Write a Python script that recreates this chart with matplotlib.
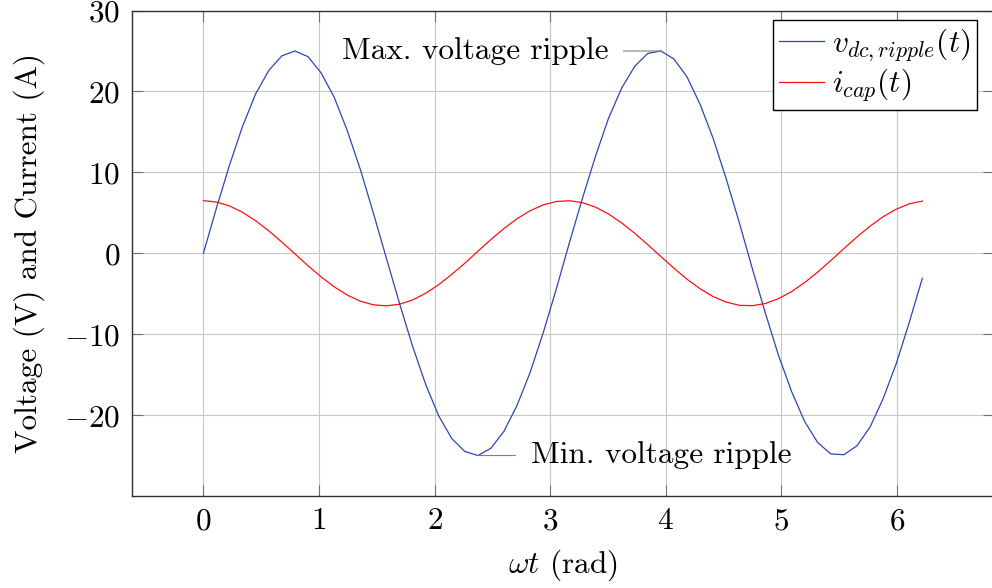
import matplotlib
matplotlib.use("Agg")
import matplotlib.pyplot as plt
import numpy as np

plt.rcParams['font.family'] = 'serif'
plt.rcParams['font.serif'] = ['cmr10', 'DejaVu Serif']
plt.rcParams['mathtext.fontset'] = 'cm'
plt.rcParams['axes.formatter.use_mathtext'] = True
plt.rcParams['axes.unicode_minus'] = True

FS = 22.5

# sampled angle (rad)
wt = [0.000, 0.113, 0.226, 0.339, 0.452, 0.566, 0.679, 0.792, 0.905, 1.018,
      1.131, 1.244, 1.357, 1.470, 1.583, 1.697, 1.810, 1.923, 2.036, 2.149,
      2.262, 2.375, 2.488, 2.601, 2.714, 2.828, 2.941, 3.054, 3.167, 3.280,
      3.393, 3.506, 3.619, 3.732, 3.845, 3.959, 4.072, 4.185, 4.298, 4.411,
      4.524, 4.637, 4.750, 4.863, 4.976, 5.090, 5.203, 5.316, 5.429, 5.542,
      5.655, 5.768, 5.881, 5.994, 6.107, 6.221]

# dc link voltage ripple (V)
v_ripple = [0.0, 5.6, 10.9, 15.7, 19.7, 22.6, 24.4, 25.0, 24.3, 22.3,
            19.3, 15.2, 10.4, 5.0, -0.6, -6.2, -11.5, -16.2, -20.1, -22.9,
            -24.5, -25.0, -24.1, -22.0, -18.8, -14.7, -9.8, -4.4, 1.3, 6.8,
            12.0, 16.7, 20.4, 23.1, 24.7, 25.0, 24.0, 21.8, 18.4, 14.2,
            9.2, 3.8, -1.9, -7.4, -12.6, -17.1, -20.8, -23.4, -24.8, -24.9,
            -23.8, -21.5, -18.0, -13.7, -8.6, -3.1]

# capacitor current (A)
i_cap = [6.50, 6.33, 5.85, 5.06, 4.02, 2.77, 1.38, -0.08, -1.54, -2.91,
         -4.14, -5.16, -5.92, -6.37, -6.50, -6.30, -5.77, -4.95, -3.88, -2.61,
         -1.24, 0.25, 1.70, 3.06, 4.27, 5.26, 5.98, 6.40, 6.49, 6.25,
         5.70, 4.85, 3.75, 2.47, 1.06, -0.41, -1.85, -3.21, -4.39, -5.35,
         -6.04, -6.43, -6.48, -6.21, -5.61, -4.74, -3.62, -2.32, -0.90, 0.57,
         2.01, 3.34, 4.51, 5.44, 6.10, 6.45]

xticks = [0, 1, 2, 3, 4, 5, 6]
yticks = [-20, -10, 0, 10, 20, 30]

fig = plt.figure(figsize=(9.92, 5.88), dpi=100)
ax = fig.add_axes([0.1326, 0.1565, 0.8695, 0.8256])

ax.plot(wt, v_ripple, color='#2a48b0', lw=0.9, label=r'$v_{dc,ripple}(t)$')
ax.plot(wt, i_cap, color='#ff1010', lw=0.9, label=r'$i_{cap}(t)$')

ax.set_xlim(-0.622, 6.842)
ax.set_ylim(-30, 30)
ax.set_xticks(xticks)
ax.set_yticks(yticks)
ax.grid(True, color='#c8c8c8', lw=0.8)
ax.set_axisbelow(True)
ax.tick_params(direction='in', length=8, width=0.8, color='#707070',
               labelsize=FS, pad=8, top=True, right=True)
for s in ax.spines.values():
    s.set_color('#303030')
    s.set_linewidth(1.0)

ax.set_xlabel(r'$\omega t$ (rad)', fontsize=FS, labelpad=9)
ax.set_ylabel('Voltage (V) and Current (A)', fontsize=FS, labelpad=14)

# pins on the second maximum and the first minimum
vv = np.array(v_ripple)
half = len(vv) // 2
k_max = half + int(np.argmax(vv[half:]))
k_min = int(np.argmin(vv[:half]))
ax.annotate('Max. voltage ripple', xy=(wt[k_max], v_ripple[k_max]),
            xytext=(-38, 0), textcoords='offset points', ha='right', va='center',
            fontsize=FS,
            arrowprops=dict(arrowstyle='-', color='#808080', lw=0.8,
                            relpos=(1, 0.5), shrinkA=9, shrinkB=0))
ax.annotate('Min. voltage ripple', xy=(wt[k_min], v_ripple[k_min]),
            xytext=(38, 0), textcoords='offset points', ha='left', va='center',
            fontsize=FS,
            arrowprops=dict(arrowstyle='-', color='#808080', lw=0.8,
                            relpos=(0, 0.5), shrinkA=9, shrinkB=0))

leg = ax.legend(loc='upper right', bbox_to_anchor=(0.980, 0.980),
                borderaxespad=0, fontsize=FS, fancybox=False, framealpha=1,
                edgecolor='black', handlelength=1.45, handletextpad=0.25,
                labelspacing=0.1, borderpad=0.2)
leg.get_frame().set_linewidth(1.0)

fig.savefig('out.png', dpi=100)
